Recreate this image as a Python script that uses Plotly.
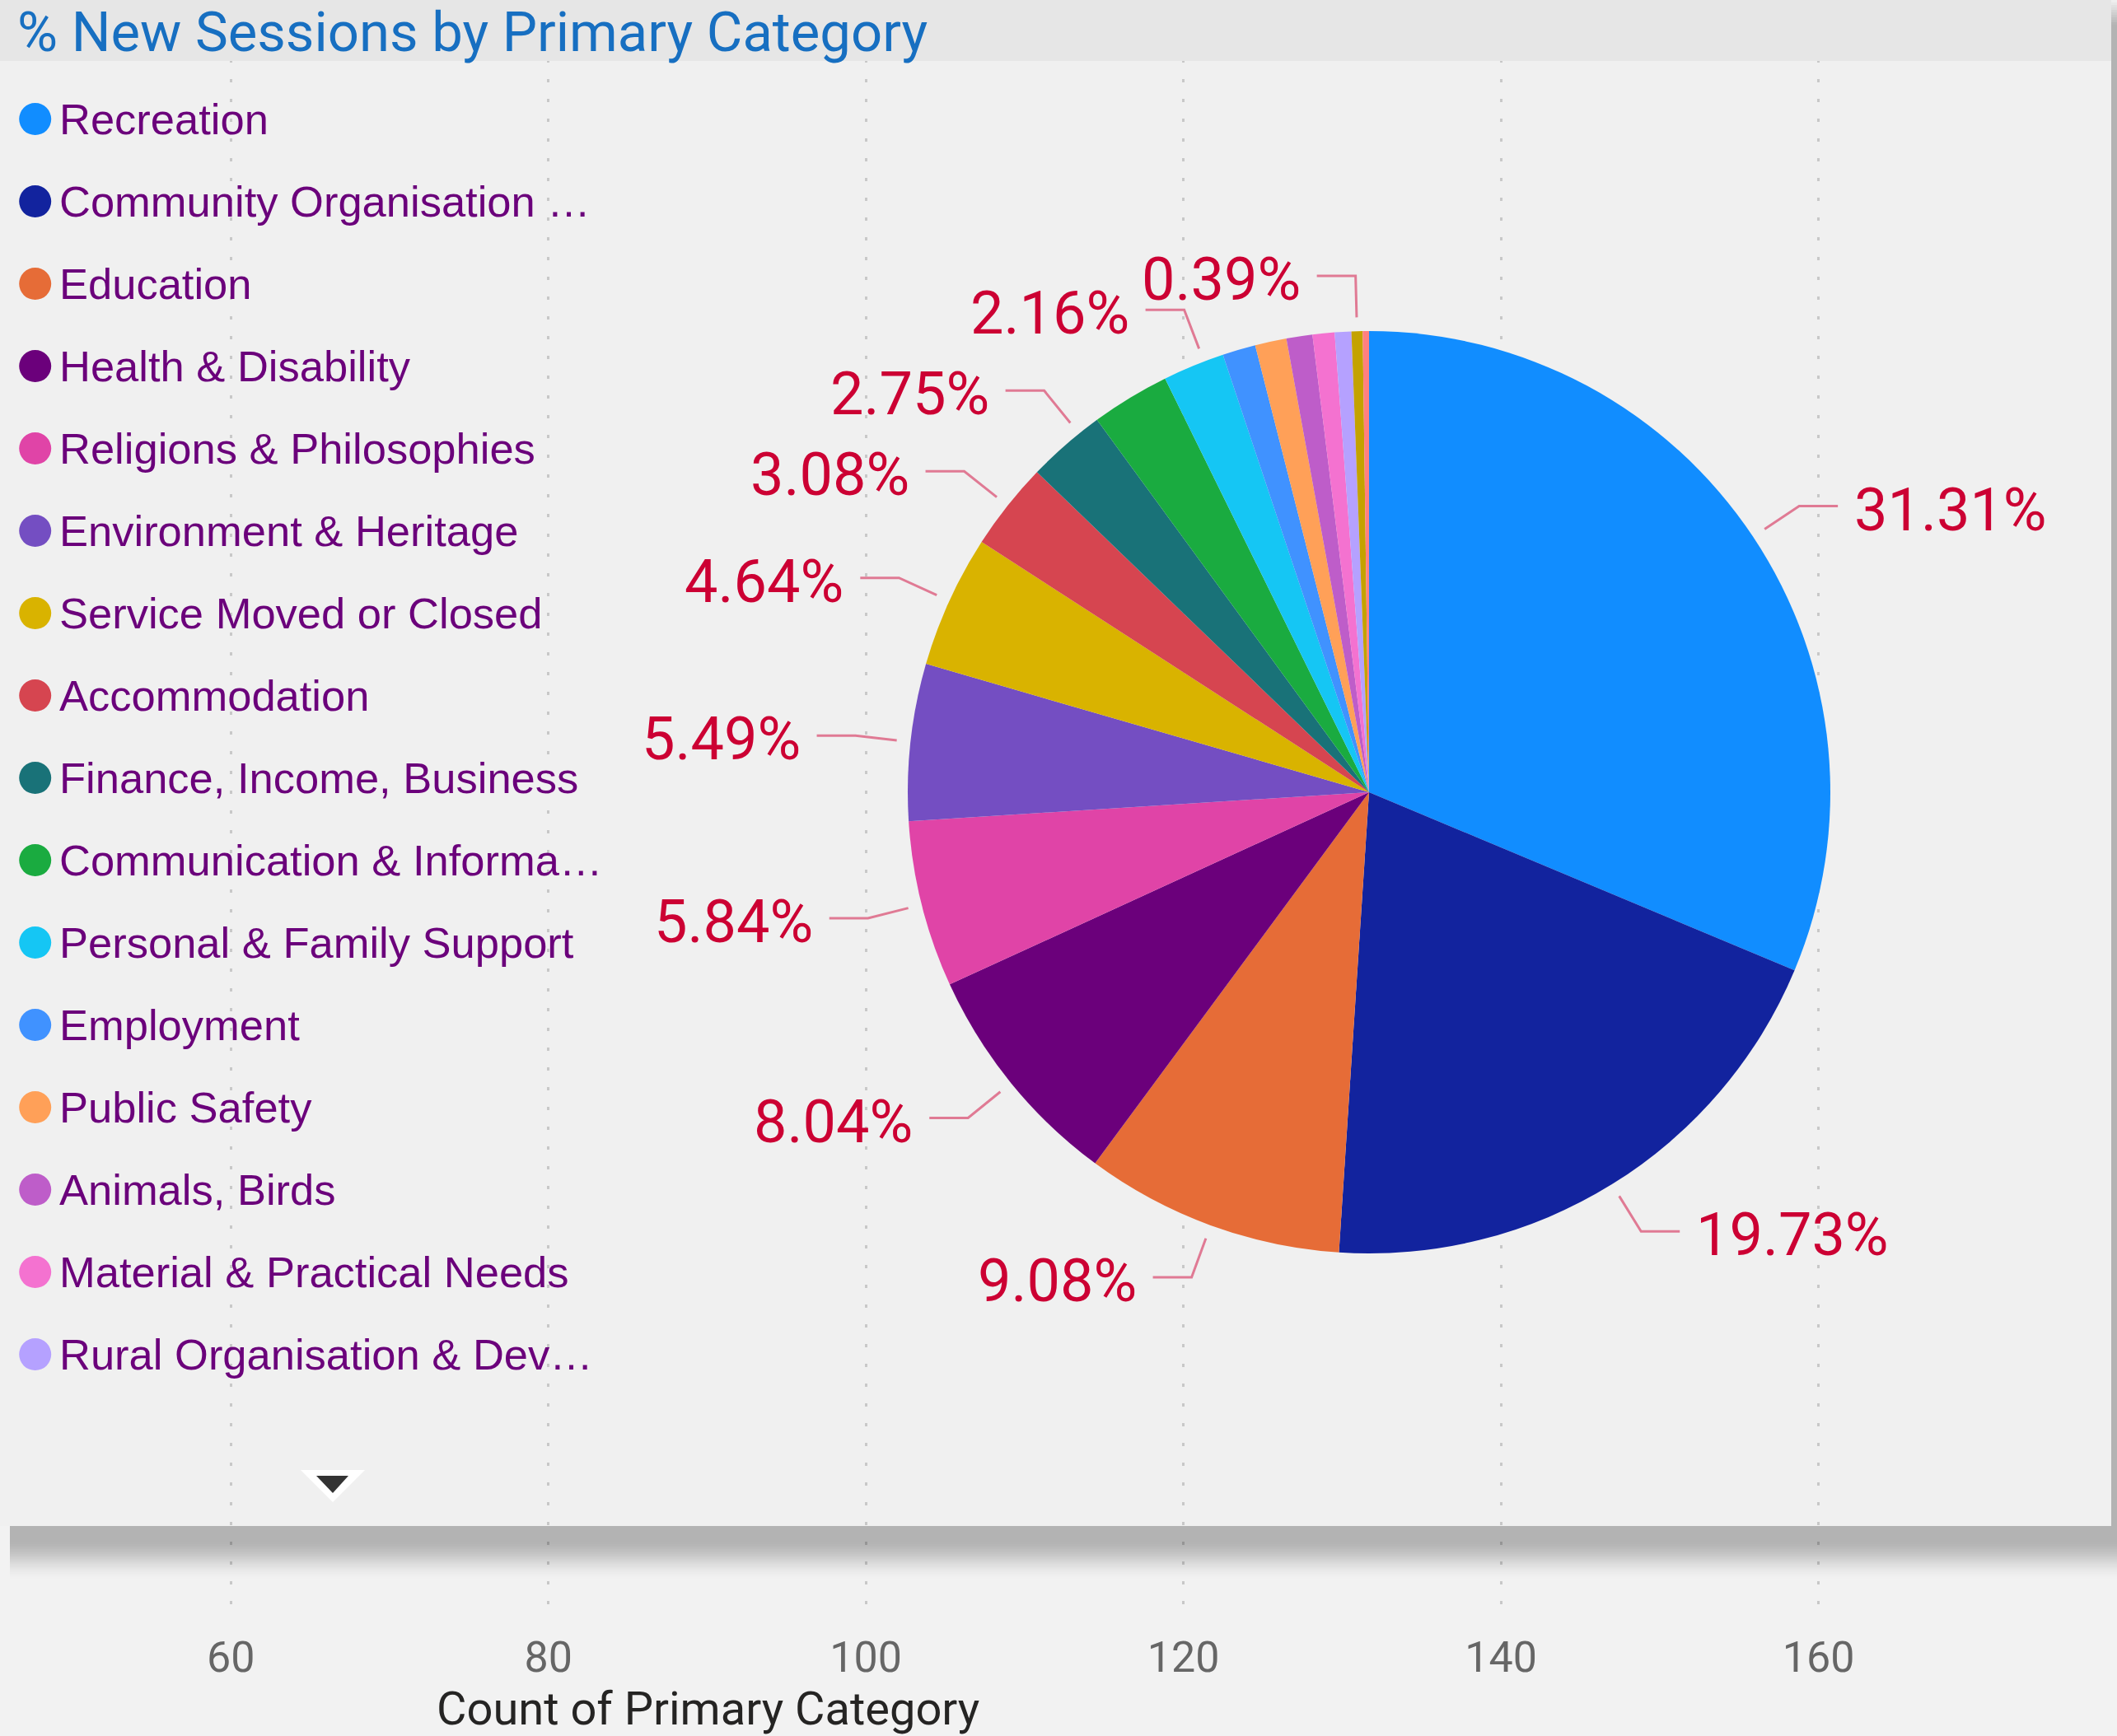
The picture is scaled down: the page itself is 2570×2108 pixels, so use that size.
import math
import plotly.graph_objects as go

# ---------------- data ----------------
categories = [
    "Recreation", "Community Organisation & Development", "Education",
    "Health & Disability", "Religions & Philosophies", "Environment & Heritage",
    "Service Moved or Closed", "Accommodation", "Finance, Income, Business",
    "Communication & Information", "Personal & Family Support", "Employment",
    "Public Safety", "Animals, Birds", "Material & Practical Needs",
    "Rural Organisation & Development", "Other 1", "Other 2",
]
values = [31.31, 19.73, 9.08, 8.04, 5.84, 5.49, 4.64, 3.08, 2.75, 2.75,
          2.16, 1.16, 1.10, 0.91, 0.77, 0.58, 0.39, 0.22]
colors = ["#118DFF", "#12239E", "#E66C37", "#6B007B", "#E044A7", "#744EC2",
          "#D9B300", "#D64550", "#197278", "#1AAB40", "#15C6F4", "#4092FF",
          "#FFA058", "#BE5DC9", "#F472D0", "#B5A1FF", "#C4A200", "#FF8080"]
label_shown = [1, 1, 1, 1, 1, 1, 1, 1, 1, 0, 1, 0, 0, 0, 0, 0, 1, 0]
legend_text = [
    "Recreation", "Community Organisation …", "Education", "Health & Disability",
    "Religions & Philosophies", "Environment & Heritage", "Service Moved or Closed",
    "Accommodation", "Finance, Income, Business", "Communication & Informa…",
    "Personal & Family Support", "Employment", "Public Safety", "Animals, Birds",
    "Material & Practical Needs", "Rural Organisation & Dev…",
]
axis_range = [45.46, 178.8]
axis_tick_step = 20
title_text = "% New Sessions by Primary Category"
axis_title = "Count of Primary Category"

# ---------------- geometry helpers ----------------
W, HT = 2570, 2108
B = 143
H = HT - B


def fx(x):
    return x / W


def fy(y):
    return 1 - y / H


cx, cy, R = 1662, 962, 560
panel_right, panel_top, panel_bottom = 2563, 74, 1853
LABEL_SIZE = 72

fig = go.Figure()
fig.add_trace(go.Scatter(x=[], y=[], showlegend=False, hoverinfo="skip"))
fig.add_trace(go.Pie(
    labels=categories, values=values, sort=False, direction="clockwise",
    rotation=0, textinfo="none", showlegend=False,
    marker=dict(colors=colors, line=dict(width=0)),
    hovertemplate="%{label}<br>%{percent}<extra></extra>",
    domain=dict(x=[fx(cx - R), fx(cx + R)], y=[fy(cy + R), fy(cy - R)]),
))

shapes = []
annotations = []

# panel background (below gridlines)
shapes.append(dict(type="rect", xref="paper", yref="paper", layer="below",
                   x0=fx(0), x1=fx(panel_right), y0=fy(panel_bottom), y1=fy(panel_top),
                   fillcolor="#F0F0F0", line=dict(width=0)))
# title bar
shapes.append(dict(type="rect", xref="paper", yref="paper", layer="above",
                   x0=fx(0), x1=fx(panel_right), y0=fy(panel_top), y1=fy(0),
                   fillcolor="#E6E6E6", line=dict(width=0)))
# bottom shadow
step = 2
for k in range(36):
    y0 = panel_bottom + k * step
    if y0 < 1868:
        a = 0.26
    else:
        s = min(1.0, (y0 - 1868) / 50)
        a = 0.26 * (1 - (3 * s * s - 2 * s * s * s))
    if a <= 0.002:
        continue
    shapes.append(dict(type="rect", xref="paper", yref="paper", layer="above",
                       x0=fx(12), x1=fx(W), y0=fy(y0 + step), y1=fy(y0),
                       fillcolor=f"rgba(0,0,0,{a:.3f})", line=dict(width=0)))
# right shadow strip (fading in at the top)
shapes.append(dict(type="rect", xref="paper", yref="paper", layer="above",
                   x0=fx(panel_right), x1=fx(W), y0=fy(panel_bottom), y1=fy(30),
                   fillcolor="rgba(0,0,0,0.26)", line=dict(width=0)))
for k in range(10):
    y0 = 3 * k
    a = 0.26 * (k + 0.5) / 10
    shapes.append(dict(type="rect", xref="paper", yref="paper", layer="above",
                       x0=fx(panel_right), x1=fx(W), y0=fy(y0 + 3), y1=fy(y0),
                       fillcolor=f"rgba(0,0,0,{a:.3f})", line=dict(width=0)))


# dropdown arrow
def tri(pts):
    return "M " + " L ".join(f"{fx(x):.5f},{fy(y):.5f}" for x, y in pts) + " Z"


shapes.append(dict(type="path", xref="paper", yref="paper", layer="above",
                   path=tri([(365, 1785), (443, 1785), (404, 1824)]),
                   fillcolor="#FFFFFF", line=dict(width=0)))
shapes.append(dict(type="path", xref="paper", yref="paper", layer="above",
                   path=tri([(384, 1792), (423, 1792), (404, 1813)]),
                   fillcolor="#333333", line=dict(width=0)))

# title
annotations.append(dict(xref="paper", yref="paper", x=fx(20), y=fy(38.5),
                        xanchor="left", yanchor="middle", showarrow=False,
                        text=title_text, borderpad=0,
                        font=dict(family="Roboto", size=67, color="#176FC1")))

# legend (manual, as in the visual)
leg_x, leg_y0, leg_dy, leg_r = 42.7, 144.6, 100.0, 19.5
for i, txt in enumerate(legend_text):
    yc = leg_y0 + i * leg_dy
    shapes.append(dict(type="circle", xref="paper", yref="paper", layer="above",
                       x0=fx(leg_x - leg_r), x1=fx(leg_x + leg_r),
                       y0=fy(yc + leg_r), y1=fy(yc - leg_r),
                       fillcolor=colors[i], line=dict(width=0)))
    annotations.append(dict(xref="paper", yref="paper", x=fx(71), y=fy(yc),
                            xanchor="left", yanchor="middle", showarrow=False,
                            text=txt, borderpad=0,
                            font=dict(family="Liberation Sans", size=52.5, color="#6B007B")))

# data labels with leader lines (simple collision avoidance like the visual)
total = sum(values)
R1, R2 = 1.03 * R, 1.12 * R
HSEG, GAP, MIN_DY = 47, 19, 98
items = []
cum = 0.0
for v, show in zip(values, label_shown):
    mid = (cum + v / 2) / total
    cum += v
    if not show:
        continue
    th = 2 * math.pi * mid
    side = 1 if math.sin(th) >= 0 else -1
    txt = f"{v:.2f}%"
    y2 = cy - R2 * math.cos(th)
    x2 = cx + R2 * math.sin(th)
    tw = 0.56 * LABEL_SIZE * len(txt)
    xt = x2 + side * (HSEG + GAP)
    ext = (xt, xt + tw) if side > 0 else (xt - tw, xt)
    items.append(dict(th=th, side=side, txt=txt, y=y2, ext=ext))

for side in (-1, 1):
    group = sorted([it for it in items if it["side"] == side], key=lambda d: -d["y"])
    placed = []
    for it in group:
        for p in placed:
            overlap = not (it["ext"][1] < p["ext"][0] or it["ext"][0] > p["ext"][1])
            if overlap and it["y"] > p["y"] - MIN_DY:
                it["y"] = p["y"] - MIN_DY
        placed.append(it)

for it in items:
    side = it["side"]
    c = max(-1.0, min(1.0, (cy - it["y"]) / R2))
    th = math.acos(c)
    sx = side * math.sin(th)
    sy = -math.cos(th)
    x1, y1 = cx + R1 * sx, cy + R1 * sy
    x2, y2 = cx + R2 * sx, cy + R2 * sy
    x3 = x2 + side * HSEG
    shapes.append(dict(type="path", xref="paper", yref="paper", layer="above",
                       path=f"M {fx(x1):.5f},{fy(y1):.5f} L {fx(x2):.5f},{fy(y2):.5f} L {fx(x3):.5f},{fy(y2):.5f}",
                       line=dict(color="#E07A94", width=3)))
    annotations.append(dict(xref="paper", yref="paper", x=fx(x3 + side * GAP), y=fy(y2 + 4.5),
                            xanchor="left" if side > 0 else "right", yanchor="middle",
                            showarrow=False, text=it["txt"], borderpad=0,
                            font=dict(family="Roboto", size=LABEL_SIZE, color="#CC0033")))

# axis title of the background chart
annotations.append(dict(xref="paper", yref="paper", x=fx(859), y=fy(2075),
                        xanchor="center", yanchor="middle", showarrow=False,
                        text=axis_title, borderpad=0,
                        font=dict(family="Roboto", size=56, color="#252423")))

fig.update_layout(
    width=W, height=HT,
    margin=dict(l=0, r=0, t=0, b=B, pad=0),
    paper_bgcolor="#F2F2F2", plot_bgcolor="#F2F2F2",
    showlegend=False,
    shapes=shapes, annotations=annotations,
    xaxis=dict(range=axis_range, dtick=axis_tick_step, tick0=0,
               showgrid=True, gridcolor="#C8C8C8", gridwidth=3.3, griddash="4px,20px",
               zeroline=False, showline=False, ticks="", ticklabelstandoff=12,
               tickfont=dict(family="Roboto", size=52, color="#666666"),
               fixedrange=True),
    yaxis=dict(range=[0, 1], visible=False, showgrid=False, zeroline=False, fixedrange=True),
)

fig.write_html("out.html", config={"displayModeBar": False},
               post_script="document.body.style.margin='0';document.body.style.background='#F2F2F2';")
